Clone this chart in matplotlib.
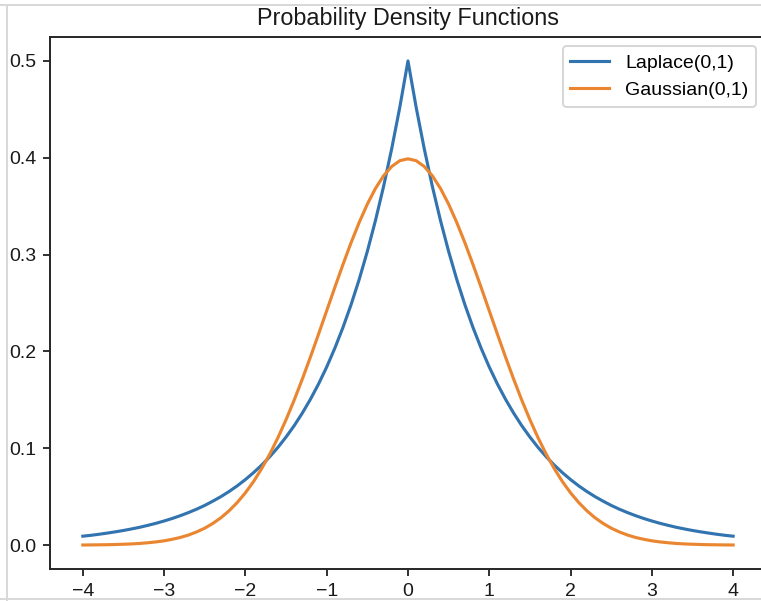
import numpy as np
import matplotlib
matplotlib.use('Agg')
import matplotlib.pyplot as plt
from matplotlib.lines import Line2D

plt.rcParams['font.family'] = ['Liberation Sans', 'DejaVu Sans']

# x grid, step 0.1 from -4 to 4
x = np.linspace(-4, 4, 81)

# Laplace(0,1) density
laplace = [0.0092, 0.0101, 0.0112, 0.0124, 0.0137, 0.0151, 0.0167, 0.0184, 0.0204, 0.0225,
           0.0249, 0.0275, 0.0304, 0.0336, 0.0371, 0.0410, 0.0454, 0.0501, 0.0554, 0.0612,
           0.0677, 0.0748, 0.0826, 0.0913, 0.1009, 0.1116, 0.1233, 0.1363, 0.1506, 0.1664,
           0.1839, 0.2033, 0.2247, 0.2483, 0.2744, 0.3033, 0.3352, 0.3704, 0.4094, 0.4524,
           0.5000,
           0.4524, 0.4094, 0.3704, 0.3352, 0.3033, 0.2744, 0.2483, 0.2247, 0.2033, 0.1839,
           0.1664, 0.1506, 0.1363, 0.1233, 0.1116, 0.1009, 0.0913, 0.0826, 0.0748, 0.0677,
           0.0612, 0.0554, 0.0501, 0.0454, 0.0410, 0.0371, 0.0336, 0.0304, 0.0275, 0.0249,
           0.0225, 0.0204, 0.0184, 0.0167, 0.0151, 0.0137, 0.0124, 0.0112, 0.0101, 0.0092]

# Gaussian(0,1) density
gaussian = [0.0001, 0.0002, 0.0003, 0.0004, 0.0006, 0.0009, 0.0012, 0.0017, 0.0024, 0.0033,
            0.0044, 0.0060, 0.0079, 0.0104, 0.0136, 0.0175, 0.0224, 0.0283, 0.0355, 0.0440,
            0.0540, 0.0656, 0.0790, 0.0940, 0.1109, 0.1295, 0.1497, 0.1714, 0.1942, 0.2179,
            0.2420, 0.2661, 0.2897, 0.3123, 0.3332, 0.3521, 0.3683, 0.3814, 0.3910, 0.3970,
            0.3989,
            0.3970, 0.3910, 0.3814, 0.3683, 0.3521, 0.3332, 0.3123, 0.2897, 0.2661, 0.2420,
            0.2179, 0.1942, 0.1714, 0.1497, 0.1295, 0.1109, 0.0940, 0.0790, 0.0656, 0.0540,
            0.0440, 0.0355, 0.0283, 0.0224, 0.0175, 0.0136, 0.0104, 0.0079, 0.0060, 0.0044,
            0.0033, 0.0024, 0.0017, 0.0012, 0.0009, 0.0006, 0.0004, 0.0003, 0.0002, 0.0001]

labels = ['Laplace(0,1)', 'Gaussian(0,1)']
colors = ['#3274b0', '#ea8530']

# screenshot looks like a 100dpi figure blown up 1.4x, so use dpi 140
fig = plt.figure(figsize=(761 / 140, 601 / 140), dpi=140)
# axes runs a bit past the right edge (cropped screenshot)
ax = fig.add_axes([0.0661, 0.0529, 0.940, 0.886])

ax.plot(x, laplace, color=colors[0], lw=1.6, label=labels[0])
ax.plot(x, gaussian, color=colors[1], lw=1.6, label=labels[1])

ax.set_title('Probability Density Functions', color='#1a1a1a')
ax.set_xticks([-4, -3, -2, -1, 0, 1, 2, 3, 4])
ax.set_yticks([0.0, 0.1, 0.2, 0.3, 0.4, 0.5])
ax.tick_params(colors='#1a1a1a', width=0.9)
ax.spines['right'].set_visible(False)
for s in ax.spines.values():
    s.set_color('#262626')
    s.set_linewidth(1.0)

leg = ax.legend(loc='upper right')
leg.get_frame().set_edgecolor('#cccccc')

# faint screenshot frame
for xs, ys in [([0.009, 0.009], [0, 0.992]), ([0, 1], [0.992, 0.992]), ([0, 1], [0.004, 0.004])]:
    fig.add_artist(Line2D(xs, ys, color='#d8d8d8', lw=1.0, transform=fig.transFigure))

fig.savefig('out.png', dpi=140)
